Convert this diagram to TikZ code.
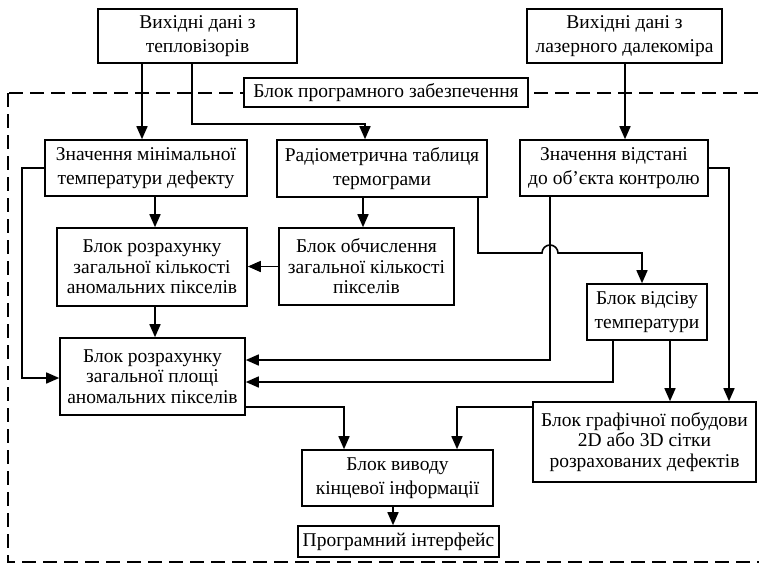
\documentclass[tikz,border=0pt]{standalone}
\usepackage{fontspec}
\setmainfont{Liberation Serif}
\usetikzlibrary{arrows.meta}
\begin{document}
\begin{tikzpicture}[x=1pt,y=-1pt,
  box/.style={draw, line width=1.6pt, fill=white, align=center, inner sep=0pt,
    font=\fontsize{19.5}{24.5}\selectfont},
  three/.style={font=\fontsize{19.5}{20.5}\selectfont},
  arr/.style={line width=1.6pt, -{Triangle[length=13pt,width=11pt]}},
  ln/.style={line width=1.6pt}]
\useasboundingbox (0,0) rectangle (759,568);
\clip (0,0) rectangle (759,568);
\fill[white] (0,0) rectangle (759,568);
% dashed frame
\draw[line width=1.4pt, dash pattern=on 14pt off 7pt] (8,93) rectangle (775,562);
\node[box, line width=1.1pt, minimum width=284pt, minimum height=29pt] (lbl) at (386,92.5) {Блок програмного забезпечення};
% nodes
\node[box, minimum width=199pt, minimum height=54pt] (tl) at (197.5,36) {Вихідні дані з\\тепловізорів};
\node[box, minimum width=195pt, minimum height=54pt] (tr) at (624.5,36) {Вихідні дані з\\лазерного далекоміра};
\node[box, minimum width=202pt, minimum height=56pt] (mint) at (146,168) {Значення мінімальної\\температури дефекту};
\node[box, minimum width=210pt, minimum height=57pt] (rad) at (382,168.5) {Радіометрична таблиця\\термограми};
\node[box, minimum width=188pt, minimum height=56pt] (dist) at (614,168) {Значення відстані\\до об’єкта контролю};
\node[box, three, minimum width=190pt, minimum height=78pt] (cnt) at (152,267) {Блок розрахунку\\загальної кількості\\аномальних пікселів};
\node[box, three, minimum width=175pt, minimum height=77pt] (tot) at (366.5,266.5) {Блок обчислення\\загальної кількості\\пікселів};
\node[box, minimum width=120pt, minimum height=56pt] (filt) at (647,312) {Блок відсіву\\температури};
\node[box, three, minimum width=185pt, minimum height=77pt] (area) at (152.5,376.5) {Блок розрахунку\\загальної площі\\аномальних пікселів};
\node[box, three, minimum width=223pt, minimum height=80pt] (graph) at (644.5,442) {Блок графічної побудови\\2D або 3D сітки\\розрахованих дефектів};
\node[box, minimum width=191pt, minimum height=56pt] (out) at (397.5,478) {Блок виводу\\кінцевої інформації};
\node[box, minimum width=201pt, minimum height=31pt] (ui) at (398.5,541.5) {Програмний інтерфейс};
% helper coordinates
\coordinate (xa) at (142,0);
\coordinate (xb) at (192,124);
\coordinate (xb2) at (365,124);
\coordinate (xc) at (625,0);
\coordinate (dl1) at (22,168);
\coordinate (dl2) at (22,378);
\coordinate (xe) at (155,0);
\coordinate (xf) at (363,0);
\coordinate (i1) at (478,253);
\coordinate (i2) at (542,253);
\coordinate (i3) at (642,253);
\coordinate (j1) at (550,360);
\coordinate (k1) at (613,382);
\coordinate (xl) at (670,0);
\coordinate (m1) at (729,168);
\coordinate (n1) at (457,407);
\coordinate (o1) at (344,407);
\coordinate (xp) at (393,0);
% connectors
\draw[arr] (tl.south -| xa) -- (mint.north -| xa);
\draw[arr] (tl.south -| xb) -- (xb) -- (xb2) -- (rad.north -| xb2);
\draw[arr] (tr.south -| xc) -- (dist.north -| xc);
\draw[arr] (mint.west |- dl1) -- (dl1) -- (dl2) -- (area.west |- dl2);
\draw[arr] (mint.south -| xe) -- (cnt.north -| xe);
\draw[arr] (rad.south -| xf) -- (tot.north -| xf);
\draw[arr] (tot.west) -- (cnt.east |- tot.west);
\draw[arr] (cnt.south -| xe) -- (area.north -| xe);
\draw[arr] (rad.south -| i1) -- (i1) -- (i2) arc[start angle=180, end angle=0, radius=8pt] -- (i3) -- (filt.north -| i3);
\draw[arr] (dist.south -| j1) -- (j1) -- (area.east |- j1);
\draw[arr] (filt.south -| k1) -- (k1) -- (area.east |- k1);
\draw[arr] (filt.south -| xl) -- (graph.north -| xl);
\draw[arr] (dist.east |- m1) -- (m1) -- (graph.north -| m1);
\draw[arr] (graph.west |- n1) -- (n1) -- (out.north -| n1);
\draw[arr] (area.east |- o1) -- (o1) -- (out.north -| o1);
\draw[arr] (out.south -| xp) -- (ui.north -| xp);
\end{tikzpicture}
\end{document}
